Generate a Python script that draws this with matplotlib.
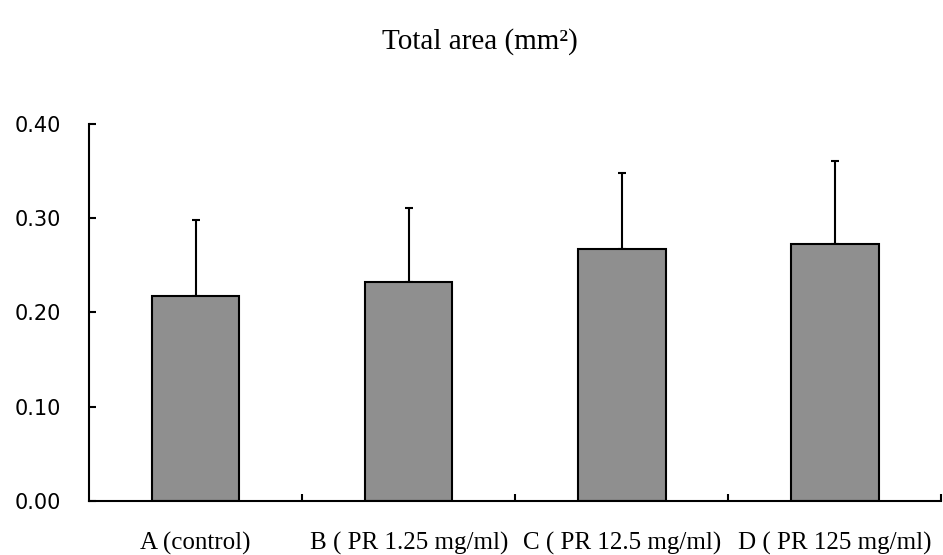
import matplotlib
matplotlib.use("Agg")
import matplotlib.pyplot as plt
import numpy as np

groups = ["A (control)", "B ( PR 1.25 mg/ml)", "C ( PR 12.5 mg/ml)", "D ( PR 125 mg/ml)"]
means = [0.217, 0.232, 0.267, 0.273]
err_up = [0.081, 0.079, 0.081, 0.088]
yticks = [0.00, 0.10, 0.20, 0.30, 0.40]

fig = plt.figure(figsize=(9.43, 5.55), dpi=100)
ax = fig.add_axes([0.0944, 0.0973, 0.904, 0.6793])

x = np.arange(len(groups))
ax.bar(x, means, width=0.41, color="#8f8f8f", edgecolor="black", linewidth=1.5, zorder=2)
ax.errorbar(x, means, yerr=[np.zeros(len(means)), err_up], fmt="none",
            ecolor="black", elinewidth=1.5, capsize=3, capthick=1.5, zorder=1)

ax.set_xlim(-0.5, len(groups) - 0.5)
ax.set_ylim(0, 0.40)
ax.set_yticks(yticks)
ax.set_yticklabels(["%.2f" % v for v in yticks], fontfamily="DejaVu Sans", fontsize=15)
ax.tick_params(axis="y", direction="in", length=5, width=1.5, pad=20)

# category labels under bars, tick marks between categories
ax.set_xticks(x)
ax.set_xticklabels(groups, fontfamily="Liberation Serif", fontsize=18)
ax.tick_params(axis="x", which="major", length=0, pad=22)
ax.set_xticks(np.arange(0.5, len(groups), 1.0), minor=True)
ax.tick_params(axis="x", which="minor", direction="in", length=5, width=1.5)

for s in ["top", "right"]:
    ax.spines[s].set_visible(False)
for s in ["left", "bottom"]:
    ax.spines[s].set_linewidth(1.5)

fig.text(0.509, 0.925, "Total area (mm\u00b2)", ha="center", va="center",
         fontfamily="Liberation Serif", fontsize=21)

fig.savefig("out.png", dpi=100)
